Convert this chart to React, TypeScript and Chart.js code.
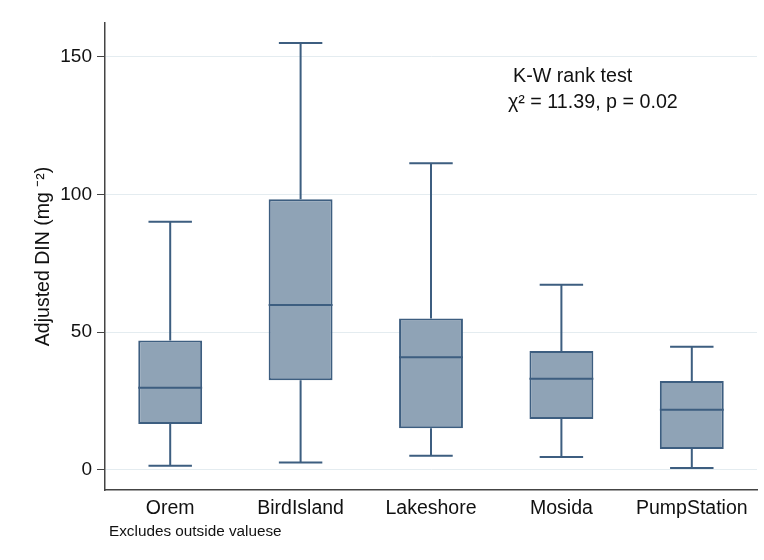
import React, { useEffect, useRef } from "react";
import { Chart, registerables } from "chart.js";

Chart.register(...registerables);

const categories = ["Orem", "BirdIsland", "Lakeshore", "Mosida", "PumpStation"];
const whiskerLow = [1.5, 2.7, 5.1, 4.7, 0.7];
const q1 = [16.7, 32.6, 15.1, 18.5, 7.6];
const median = [29.8, 59.9, 40.9, 33.1, 21.8];
const q3 = [47.0, 98.3, 55.0, 43.2, 32.3];
const whiskerHigh = [90.1, 155.0, 111.4, 67.2, 44.7];
const yTicks = [0, 50, 100, 150];
const testTitle = "K-W rank test";
const testStat = "χ² = 11.39, p = 0.02";
const footnote = "Excludes outside valuese";
const yTitle = "Adjusted DIN (mg ⁻²)";

const FONT = "'Liberation Sans', Arial, Helvetica, sans-serif";
const BOX_FILL = "#8fa3b6";
const BOX_LINE = "#3d5e80";

const boxPlugin = {
  id: "boxParts",
  afterDatasetsDraw(chart: any) {
    const meta = chart.getDatasetMeta(0);
    const y = chart.scales.y;
    const ctx = chart.ctx;
    ctx.save();
    ctx.strokeStyle = BOX_LINE;
    ctx.lineWidth = 2;
    meta.data.forEach((bar: any, i: number) => {
      const x = bar.x;
      const w = bar.width;
      const cap = w * 0.34;
      const yMed = y.getPixelForValue(median[i]);
      const yQ1 = y.getPixelForValue(q1[i]);
      const yQ3 = y.getPixelForValue(q3[i]);
      const yLo = y.getPixelForValue(whiskerLow[i]);
      const yHi = y.getPixelForValue(whiskerHigh[i]);
      ctx.beginPath();
      ctx.moveTo(x - w / 2, yMed);
      ctx.lineTo(x + w / 2, yMed);
      ctx.moveTo(x, yQ3);
      ctx.lineTo(x, yHi);
      ctx.moveTo(x - cap, yHi);
      ctx.lineTo(x + cap, yHi);
      ctx.moveTo(x, yQ1);
      ctx.lineTo(x, yLo);
      ctx.moveTo(x - cap, yLo);
      ctx.lineTo(x + cap, yLo);
      ctx.stroke();
    });
    ctx.restore();
  },
  afterDraw(chart: any) {
    const ctx = chart.ctx;
    const area = chart.chartArea;
    ctx.save();
    ctx.fillStyle = "#111";
    ctx.textBaseline = "alphabetic";
    ctx.textAlign = "left";
    ctx.font = `19.7px ${FONT}`;
    ctx.fillText(testTitle, 513, 82);
    ctx.fillText(testStat, 508, 108);
    ctx.font = `15.3px ${FONT}`;
    ctx.fillText(footnote, area.left + 4, 536);
    ctx.restore();
  },
};

export default function App() {
  const ref = useRef<HTMLCanvasElement | null>(null);
  useEffect(() => {
    if (!ref.current) return;
    const chart = new Chart(ref.current, {
      type: "bar",
      data: {
        labels: categories,
        datasets: [
          {
            data: categories.map((_, i) => [q1[i], q3[i]]) as any,
            backgroundColor: BOX_FILL,
            borderColor: BOX_LINE,
            borderWidth: 2,
            borderSkipped: false,
            barPercentage: 0.49,
            categoryPercentage: 1,
          },
        ],
      },
      options: {
        responsive: false,
        animation: false,
        layout: { padding: { left: 8, top: 23, right: 7, bottom: 25 } },
        plugins: {
          legend: { display: false },
          tooltip: { enabled: false },
          title: { display: false },
        },
        scales: {
          x: {
            grid: { display: true, color: "transparent", drawTicks: false },
            border: { display: true, color: "#444", width: 1.5 },
            ticks: { color: "#111", font: { family: FONT, size: 19.5 }, padding: 7 },
            afterFit: (s: any) => {
              s.height = 45;
            },
          },
          y: {
            min: -7.3,
            max: 162.3,
            afterBuildTicks: (s: any) => {
              s.ticks = yTicks.map((v) => ({ value: v }));
            },
            grid: { color: "#e4ecf0", lineWidth: 1, tickColor: "#444", tickLength: 8 },
            border: { display: true, color: "#444", width: 1.5 },
            ticks: { color: "#111", font: { family: FONT, size: 19 }, padding: 5 },
            title: {
              display: true,
              text: yTitle,
              color: "#111",
              font: { family: FONT, size: 19.5 },
              padding: { top: 24, bottom: 0 },
            },
            afterFit: (s: any) => {
              s.width = 97;
            },
          },
        },
      },
      plugins: [boxPlugin],
    });
    return () => chart.destroy();
  }, []);
  return (
    <canvas
      ref={ref}
      width={764}
      height={560}
      style={{ position: "absolute", left: 0, top: 0, width: 764, height: 560, background: "#fff" }}
    />
  );
}
